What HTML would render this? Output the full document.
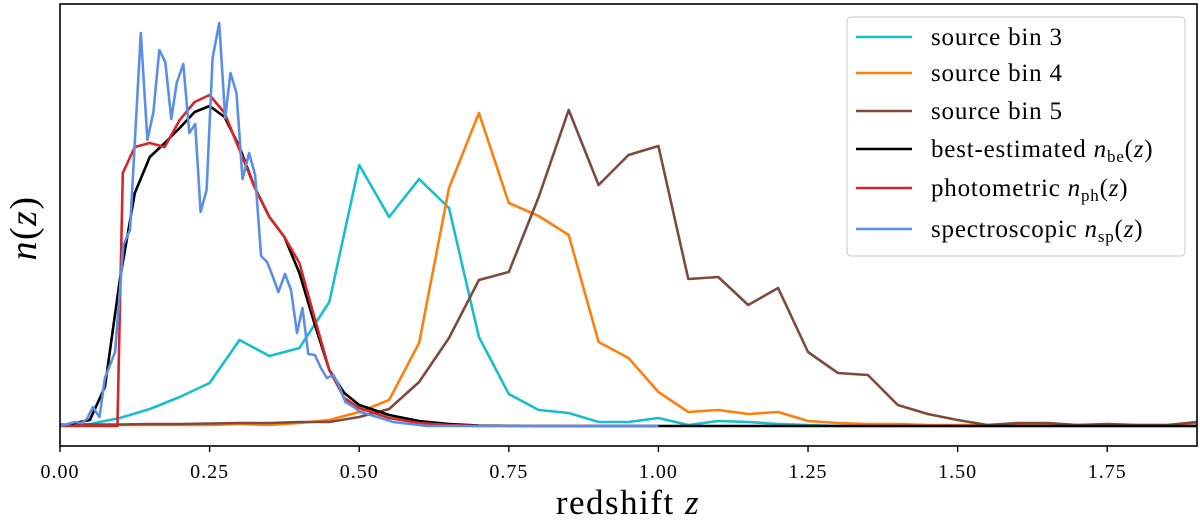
<!DOCTYPE html>
<html><head><meta charset="utf-8">
<style>
html,body{margin:0;padding:0;background:#fff;}
svg{display:block;font-family:"Liberation Serif","DejaVu Serif",serif;}
</style></head>
<body>
<svg id="chart" width="1200" height="522" viewBox="0 0 1200 522">
<rect x="0" y="0" width="1200" height="522" fill="#fff"/>
<g id="series"></g>
<g id="axes"></g>
<g id="legend"></g>
</svg>
<script>
// ---- data ----
const zBins = [0,0.05,0.1,0.15,0.2,0.25,0.3,0.35,0.4,0.45,0.5,0.55,0.6,0.65,0.7,0.75,0.8,0.85,0.9,0.95,1.0,1.05,1.1,1.15,1.2,1.25,1.3,1.35,1.4,1.45,1.5,1.55,1.6,1.65,1.7,1.75,1.8,1.85,1.9];
const bin3 = [0,2,8,17,29,43,86,70,78,124,261,209,247,218,89,32,16,13,4,4,8,1,5,4,2,1,0,0,0,0,0,0,0,0,0,0,0,0,0];
const bin4 = [1,1,1,1,1,1,2,1,3,6,14,26,83,238,313,223,210,191,84,68,34,14,16,12,14,5,3,2,2,1,1,1,1,1,1,1,1,1,3];
const bin5 = [1.5,1.5,1.5,2,2,2.5,3,3,4,4,9,17,44,88,146,154,229,316,241,271,280,147,149,121,138,74,53,51,21,12,6,1,3,3,1,2,1,1,4];
const zFine = [0,0.05,0.075,0.1,0.125,0.15,0.175,0.2,0.225,0.25,0.275,0.3,0.325,0.35,0.375,0.4,0.425,0.45,0.475,0.5,0.55,0.6,0.65,0.7,0.8,1.0,1.9];
const nBest = [0,6,39,146,233,269,283,298,314,320,309,279,239,209,189,153,103,56,33,21,11,5,2,0.5,0,0,0];
const zPhot = [0,0.096,0.105,0.125,0.15,0.175,0.2,0.225,0.25,0.275,0.3,0.325,0.35,0.375,0.4,0.425,0.45,0.475,0.5,0.55,0.6,0.65,0.7,1.0];
const nPhot = [0,0,253,279,283,279,306,324,331,313,276,239,209,189,163,109,56,28,18,8,3,1,0,0];
const zSpec = [0,0.025,0.036,0.045,0.055,0.066,0.075,0.092,0.106,0.117,0.135,0.146,0.156,0.166,0.176,0.186,0.195,0.206,0.216,0.226,0.235,0.245,0.255,0.266,0.276,0.285,0.295,0.305,0.316,0.326,0.336,0.346,0.356,0.365,0.376,0.386,0.396,0.405,0.415,0.426,0.436,0.446,0.457,0.467,0.477,0.491,0.502,0.53,0.557,0.585,0.613,1.0];
const nSpec = [0,4,3,7,19,9,48,74,181,196,393,286,314,376,364,307,343,362,293,302,214,236,368,403,308,353,333,247,273,251,170,164,149,134,152,136,93,118,72,71,58,48,51,39,24,19,14,9,4,2,0,0];
const xTicks = [0,0.25,0.5,0.75,1.0,1.25,1.5,1.75];
const xTickLabels = ["0.00","0.25","0.50","0.75","1.00","1.25","1.50","1.75"];

// ---- scales ----
const X0=60, X1=1197, Y0=4, Y1=446;
const xMin=0, xMax=1.9, yMin=-20, yMax=422;
const xs = z => X0 + (z-xMin)/(xMax-xMin)*(X1-X0);
const ys = v => Y1 - (v-yMin)/(yMax-yMin)*(Y1-Y0);
const NS="http://www.w3.org/2000/svg";
function mk(tag, attrs, parent){const e=document.createElementNS(NS,tag);for(const k in attrs)e.setAttribute(k,attrs[k]);parent.appendChild(e);return e;}

const series = document.getElementById('series');
function line(xsArr, vals, color, name){
  const d = vals.map((v,i)=>(i?'L':'M')+xs(xsArr[i]).toFixed(1)+','+ys(v).toFixed(1)).join(' ');
  const p = mk('path',{d:d,fill:'none',stroke:color,'stroke-width':2.6,'stroke-linejoin':'round'},series);
  
  
}
line(zBins, bin3, '#17becf', 'source-bin-3-line');
line(zBins, bin4, '#ff7f0e', 'source-bin-4-line');
line(zBins, bin5, '#7f4a3c', 'source-bin-5-line');
line(zFine, nBest, '#000000', 'best-estimated-line');
line(zPhot, nPhot, '#d62728', 'photometric-line');
line(zSpec, nSpec, '#5b8fe6', 'spectroscopic-line');

// ---- axes ----
const axes = document.getElementById('axes');
const frame = mk('rect',{x:X0,y:Y0,width:X1-X0,height:Y1-Y0,fill:'none',stroke:'#000','stroke-width':1.6},axes);


xTicks.forEach((t,i)=>{
  const tk = mk('line',{x1:xs(t),x2:xs(t),y1:Y1,y2:Y1+6,stroke:'#000','stroke-width':1.4},axes);
  
  
  const lb = mk('text',{x:xs(t),y:478,'text-anchor':'middle','font-size':20,'letter-spacing':1},axes);
  lb.textContent = xTickLabels[i];
  
  
});
const xt = mk('text',{x:628,y:514,'text-anchor':'middle','font-size':35,'letter-spacing':1.5},axes);
xt.innerHTML = 'redshift <tspan font-style="italic">z</tspan>';


const yt = mk('text',{x:0,y:0,'text-anchor':'middle','font-size':38,'letter-spacing':1.5,transform:'translate(36,228) rotate(-90)'},axes);
yt.innerHTML = '<tspan font-style="italic">n</tspan>(<tspan font-style="italic">z</tspan>)';



// ---- legend ----
const lg = document.getElementById('legend');
const lbox = mk('rect',{x:847,y:17,width:338,height:239,rx:4,fill:'#fff','fill-opacity':0.9,stroke:'#d0d0d0','stroke-width':1.2},lg);


const legColors = ['#17becf','#ff7f0e','#7f4a3c','#000000','#d62728','#5b8fe6'];
const legY = [37,73,111,149,188,229];
const legHtml = ['source bin 3','source bin 4','source bin 5',
 'best-estimated <tspan font-style="italic">n</tspan><tspan font-size="17" dy="5">be</tspan><tspan dy="-5">(</tspan><tspan font-style="italic">z</tspan>)',
 'photometric <tspan font-style="italic">n</tspan><tspan font-size="17" dy="5">ph</tspan><tspan dy="-5">(</tspan><tspan font-style="italic">z</tspan>)',
 'spectroscopic <tspan font-style="italic">n</tspan><tspan font-size="17" dy="5">sp</tspan><tspan dy="-5">(</tspan><tspan font-style="italic">z</tspan>)'];
legY.forEach((y,i)=>{
  const g = mk('g',{},lg);
  
  
  mk('line',{x1:856,x2:912,y1:y,y2:y,stroke:legColors[i],'stroke-width':2.6},g);
  const t = mk('text',{x:931,y:y+8,'font-size':25,'letter-spacing':0.8},g);
  t.innerHTML = legHtml[i];
});
</script>
</body></html>
